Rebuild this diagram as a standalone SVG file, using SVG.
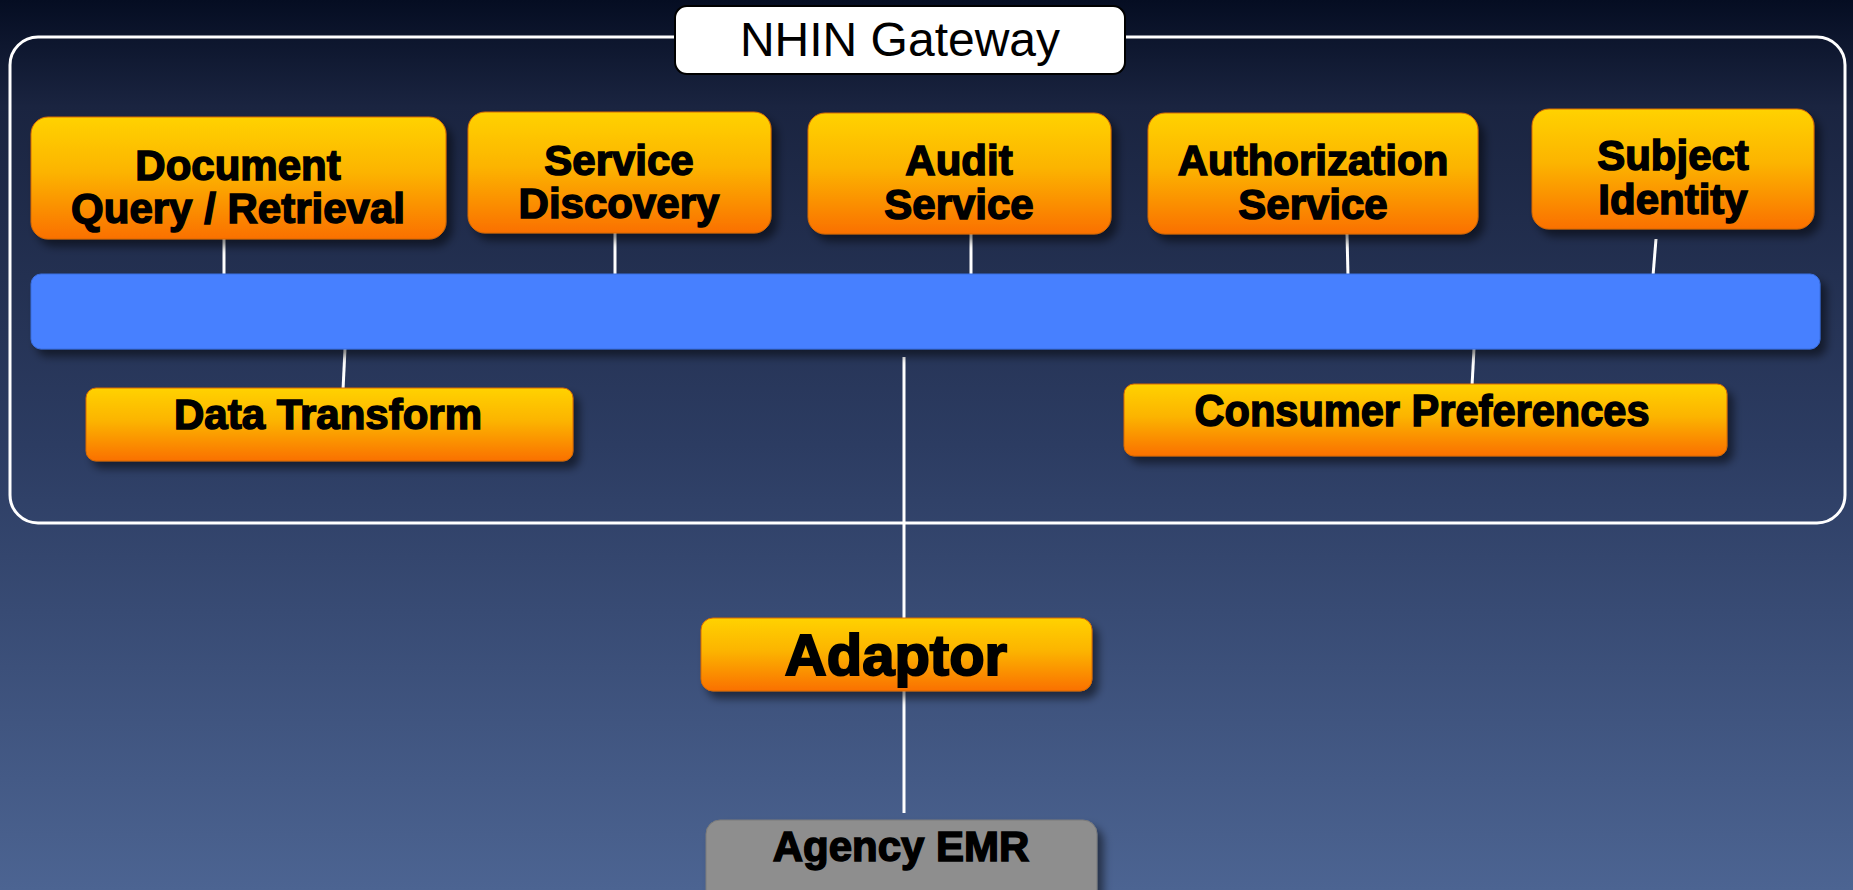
<svg xmlns="http://www.w3.org/2000/svg" width="1853" height="890" viewBox="0 0 1853 890">
<defs>
<linearGradient id="bg" x1="0" y1="0" x2="0" y2="1">
<stop offset="0" stop-color="#050d22"/>
<stop offset="0.12" stop-color="#1a2440"/>
<stop offset="0.5" stop-color="#2c3c62"/>
<stop offset="1" stop-color="#4c6492"/>
</linearGradient>
<linearGradient id="orange" x1="0" y1="0" x2="0" y2="1">
<stop offset="0" stop-color="#ffd200"/>
<stop offset="0.45" stop-color="#fcb400"/>
<stop offset="1" stop-color="#fa7000"/>
</linearGradient>
<filter id="shadow" x="-10%" y="-20%" width="130%" height="150%">
<feDropShadow dx="6" dy="7" stdDeviation="4" flood-color="#000" flood-opacity="0.5"/>
</filter>
<style>
.box{fill:url(#orange);stroke:#d86a00;stroke-width:1;filter:url(#shadow)}
.lbl{font-family:"Liberation Sans",Arial,sans-serif;font-weight:bold;font-size:42px;fill:#000;stroke:#000;stroke-width:1.5;text-anchor:middle}
.conn line{stroke:#ffffff;stroke-width:3}
</style>
</defs>
<rect x="0" y="0" width="1853" height="890" fill="url(#bg)"/>

<g id="gateway-frame">
<rect x="10" y="37" width="1835" height="486" rx="28" fill="none" stroke="#ffffff" stroke-width="3"/>
</g>

<g class="conn" id="connectors">
<line x1="224" y1="239" x2="224" y2="276"/>
<line x1="615" y1="233" x2="615" y2="276"/>
<line x1="971" y1="234" x2="971" y2="276"/>
<line x1="1347" y1="234" x2="1348" y2="276"/>
<line x1="1656" y1="239" x2="1653" y2="276"/>
<line x1="345" y1="349" x2="343" y2="390"/>
<line x1="1474" y1="349" x2="1472" y2="386"/>
<line x1="904" y1="357" x2="904" y2="813"/>
</g>

<g id="nhin-gateway-label">
<rect x="675" y="6" width="450" height="68" rx="12" fill="#ffffff" stroke="#000" stroke-width="2"/>
<text x="900" y="56" font-family="&quot;Liberation Sans&quot;,Arial,sans-serif" font-size="48" text-anchor="middle" fill="#000">NHIN Gateway</text>
</g>

<g id="bus">
<rect x="31" y="274" width="1789" height="75" rx="10" fill="#4680ff" stroke="#3a6ee0" stroke-width="1" filter="url(#shadow)"/>
</g>

<g id="document-query">
<rect class="box" x="31" y="117" width="415" height="122" rx="17"/>
<text class="lbl" x="238" y="180">Document</text>
<text class="lbl" x="238" y="223">Query / Retrieval</text>
</g>

<g id="service-discovery">
<rect class="box" x="468" y="112" width="303" height="121" rx="17"/>
<text class="lbl" x="619" y="175">Service</text>
<text class="lbl" x="619" y="218">Discovery</text>
</g>

<g id="audit-service">
<rect class="box" x="808" y="113" width="303" height="121" rx="17"/>
<text class="lbl" x="959" y="175">Audit</text>
<text class="lbl" x="959" y="219">Service</text>
</g>

<g id="authorization-service">
<rect class="box" x="1148" y="113" width="330" height="121" rx="17"/>
<text class="lbl" x="1313" y="175">Authorization</text>
<text class="lbl" x="1313" y="219">Service</text>
</g>

<g id="subject-identity">
<rect class="box" x="1532" y="109" width="282" height="120" rx="17"/>
<text class="lbl" x="1673" y="170">Subject</text>
<text class="lbl" x="1673" y="214">Identity</text>
</g>

<g id="data-transform">
<rect class="box" x="86" y="388" width="487" height="73" rx="10"/>
<text class="lbl" x="328" y="429">Data Transform</text>
</g>

<g id="consumer-preferences">
<rect class="box" x="1124" y="384" width="603" height="72" rx="10"/>
<text class="lbl" x="1422" y="426" style="font-size:44px" textLength="455" lengthAdjust="spacingAndGlyphs">Consumer Preferences</text>
</g>

<g id="adaptor">
<rect class="box" x="701" y="618" width="391" height="73" rx="12"/>
<text class="lbl" x="896" y="675" style="font-size:58px;stroke-width:2">Adaptor</text>
</g>

<g id="agency-emr">
<rect x="706" y="820" width="391" height="90" rx="14" fill="#8e8e8e" stroke="#7a7a7a" stroke-width="1" filter="url(#shadow)"/>
<text class="lbl" x="901" y="861">Agency EMR</text>
</g>
</svg>
